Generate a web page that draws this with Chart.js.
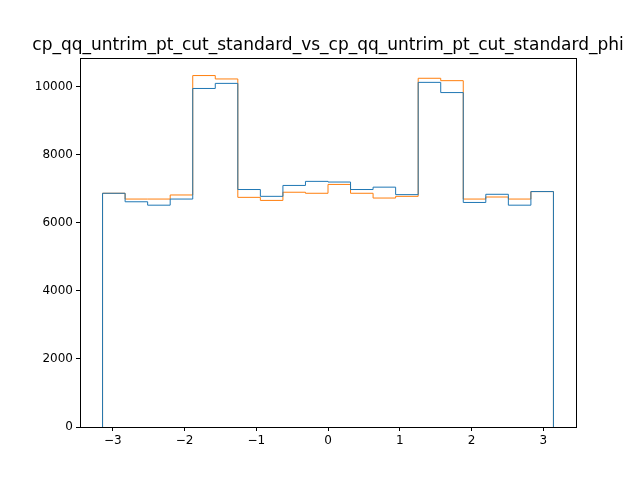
<!DOCTYPE html>
<html>
<head>
<script src="https://cdn.jsdelivr.net/npm/chart.js@4"></script>
<style>body{margin:0;background:#fff}</style>
</head>
<body>
<canvas id="c" width="640" height="480"></canvas>
<script>
// 20 bins from -pi to pi
var binCount = 20;
var blueCounts = [6870, 6620, 6520, 6700, 9950, 10100, 6980, 6780, 7100, 7220,
                  7200, 6980, 7050, 6830, 10130, 9830, 6600, 6840, 6520, 6920];
var orangeCounts = [6870, 6700, 6700, 6820, 10330, 10230, 6750, 6660, 6900, 6870,
                    7130, 6870, 6730, 6780, 10250, 10180, 6700, 6760, 6700, 6920];
var xTicks = [-3, -2, -1, 0, 1, 2, 3];
var yTicks = [0, 2000, 4000, 6000, 8000, 10000];
var titleText = 'cp_qq_untrim_pt_cut_standard_vs_cp_qq_untrim_pt_cut_standard_phi';

function stepPoints(counts) {
  var w = 2 * Math.PI / binCount;
  var pts = [{x: -Math.PI, y: 0}];
  for (var i = 0; i < counts.length; i++) pts.push({x: -Math.PI + i * w, y: counts[i]});
  pts.push({x: Math.PI, y: counts[counts.length - 1]});
  pts.push({x: Math.PI, y: 0});
  return pts;
}

new Chart(document.getElementById("c"), {
  type: 'line',
  data: {
    datasets: [
      {data: stepPoints(blueCounts), borderColor: '#1f77b4', borderWidth: 1, stepped: 'before', pointRadius: 0, fill: false},
      {data: stepPoints(orangeCounts), borderColor: '#ff7f0e', borderWidth: 1, stepped: 'before', pointRadius: 0, fill: false}
    ]
  },
  options: {
    responsive: false,
    animation: false,
    layout: {padding: {left: 0, right: 64, top: 58, bottom: 0}},
    plugins: {
      legend: {display: false},
      tooltip: {enabled: false},
      title: {display: false}
    },
    scales: {
      x: {
        type: 'linear', min: -3.456, max: 3.456,
        afterBuildTicks: function(a){ a.ticks = xTicks.map(function(v){return {value: v};}); },
        afterFit: function(a){ a.height = 53; },
        grid: {drawOnChartArea: false, tickLength: 4, color: '#000'},
        border: {color: '#000'},
        ticks: {color: '#000', font: {family: 'DejaVu Sans', size: 12}, maxRotation: 0,
                callback: function(v){ return v < 0 ? '\u2212' + (-v) : String(v); }}
      },
      y: {
        min: 0, max: 10846,
        afterBuildTicks: function(a){ a.ticks = yTicks.map(function(v){return {value: v};}); },
        afterFit: function(a){ a.width = 80; },
        grid: {drawOnChartArea: false, tickLength: 4, color: '#000'},
        border: {color: '#000'},
        ticks: {color: '#000', font: {family: 'DejaVu Sans', size: 12},
                callback: function(v){ return String(v); }}
      }
    }
  },
  plugins: [{
    id: 'frame',
    afterDraw: function(ch){
      var a = ch.chartArea, c = ch.ctx;
      c.save(); c.strokeStyle = '#000'; c.lineWidth = 1;
      c.strokeRect(a.left + 0.5, a.top + 0.5, a.right - a.left, a.bottom - a.top);
      c.fillStyle = '#000';
      c.font = '17px "DejaVu Sans"';
      c.textAlign = 'center'; c.textBaseline = 'alphabetic';
      c.fillText(titleText, (a.left + a.right) / 2, 50);
      c.restore();
    }
  }]
});
</script>
</body>
</html>
